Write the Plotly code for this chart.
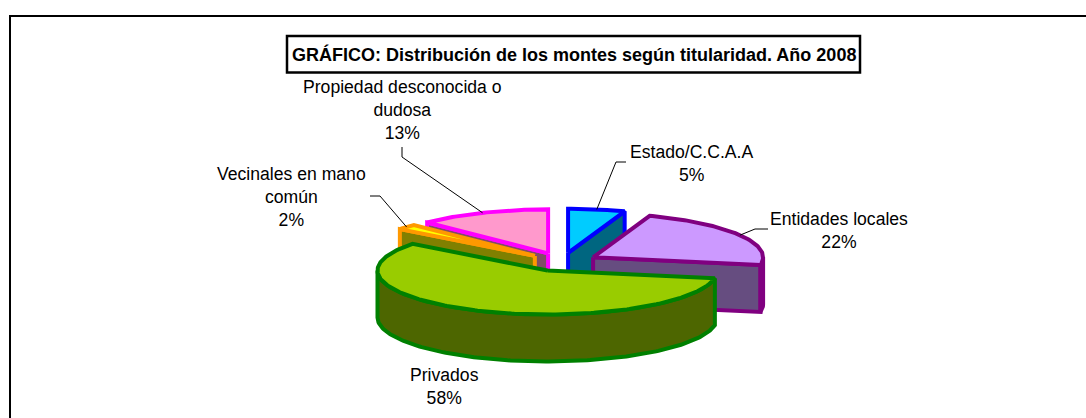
import math
import plotly.graph_objects as go

# ---- data ----
categories = ["Estado/C.C.A.A", "Entidades locales", "Privados",
              "Vecinales en mano común", "Propiedad desconocida o dudosa"]
shares = [5.4, 22.4, 57.6, 2.0, 12.6]
label_lines = [["Estado/C.C.A.A"], ["Entidades locales"], ["Privados"],
               ["Vecinales en mano", "común"], ["Propiedad desconocida o", "dudosa"]]
title_text = "GRÁFICO: Distribución de los montes según titularidad. Año 2008"

# ---- styles ----
top_colors = ["#00CCFF", "#CC99FF", "#99CC00", "#FFFF00", "#FF99CC"]
side_colors = ["#006680", "#664D80", "#4D6600", "#808000", "#804D66"]
edge_colors = ["#0000FF", "#800080", "#008000", "#FF9900", "#FF00FF"]

# ---- projection of the pie on the 1086x418 page ----
CX, CY, RX, RY, EXPLODE, DEPTH = 562, 262, 170, 44, 36, 47
EDGE_W = 4
LABEL_SIZE = 17.6
label_centers = [(691, 163), (839, 230), (444, 386), (291.5, 197), (402, 110)]


def pt(center, deg, radius=1.0, drop=0):
    a = math.radians(deg)
    return (center[0] + radius * RX * math.sin(a),
            center[1] - radius * RY * math.cos(a) + drop)


def arc(center, a0, a1, drop=0, step=1.0):
    n = max(2, int(abs(a1 - a0) / step) + 1)
    return [pt(center, a0 + (a1 - a0) * i / (n - 1), drop=drop) for i in range(n)]


def poly(fig, pts, fill, edge):
    xs = [p[0] for p in pts] + [pts[0][0]]
    ys = [p[1] for p in pts] + [pts[0][1]]
    fig.add_trace(go.Scatter(x=xs, y=ys, mode="lines", fill="toself", fillcolor=fill,
                             line=dict(color=edge, width=EDGE_W), hoverinfo="skip",
                             showlegend=False))


total = sum(shares)
slices = []
run = 0.0
for i, v in enumerate(shares):
    a0 = run / total * 360
    run += v
    a1 = run / total * 360
    mid = (a0 + a1) / 2
    m = math.radians(mid)
    c = (CX + EXPLODE * math.sin(m), CY - EXPLODE * RY / RX * math.cos(m))
    slices.append(dict(i=i, a0=a0, a1=a1, mid=mid, c=c))

fig = go.Figure()

# painter's order: far slices first, nearest last
for s in sorted(slices, key=lambda q: q["c"][1] + RY * -math.cos(math.radians(q["mid"])) * 0.3):
    i, a0, a1, c = s["i"], s["a0"], s["a1"], s["c"]
    fill, edge, top = side_colors[i], edge_colors[i], top_colors[i]
    low = (c[0], c[1] + DEPTH)
    if math.sin(math.radians(a0)) < -1e-6:
        p = pt(c, a0)
        poly(fig, [c, p, (p[0], p[1] + DEPTH), low], fill, edge)
    if math.sin(math.radians(a1)) > 1e-6:
        p = pt(c, a1)
        poly(fig, [c, p, (p[0], p[1] + DEPTH), low], fill, edge)
    w0, w1 = max(a0, 90), min(a1, 270)
    if w1 > w0:
        poly(fig, arc(c, w0, w1) + arc(c, w1, w0, drop=DEPTH), fill, edge)
    poly(fig, [c] + arc(c, a0, a1), top, edge)

shapes = [
    dict(type="rect", x0=10, y0=16, x1=1200, y1=600, line=dict(color="#000000", width=2)),
    dict(type="rect", x0=287, y0=36, x1=860, y1=72.5, line=dict(color="#000000", width=2.5),
         fillcolor="#FFFFFF"),
]

annotations = [dict(x=574, y=54, text="<b>" + title_text + "</b>", showarrow=False,
                    xanchor="center", yanchor="middle",
                    font=dict(family="Liberation Sans", size=18, color="#000000"))]

for s in slices:
    i = s["i"]
    lx, ly = label_centers[i]
    pct = f"{round(shares[i] / total * 100)}%"
    annotations.append(dict(x=lx, y=ly, text="<br>".join(label_lines[i] + [pct]), showarrow=False,
                            xanchor="center", yanchor="middle", align="center",
                            font=dict(family="Liberation Sans", size=LABEL_SIZE, color="#000000")))

fig.update_layout(
    width=1086, height=418, margin=dict(l=0, r=0, t=0, b=0),
    paper_bgcolor="#FFFFFF", plot_bgcolor="#FFFFFF", showlegend=False,
    xaxis=dict(range=[0, 1086], visible=False, fixedrange=True),
    yaxis=dict(range=[418, 0], visible=False, fixedrange=True),
    shapes=shapes, annotations=annotations,
)

# leader lines start on the rim of their slice
leader_ends = {0: [(626, 162), (616, 162)], 1: [(768, 229), (755, 229)],
               3: [(370, 196), (380, 196)], 4: [(402, 147), (402, 157)]}
for i, pts in leader_ends.items():
    rim = pt(slices[i]["c"], slices[i]["mid"])
    line_pts = pts + [rim]
    fig.add_trace(go.Scatter(x=[p[0] for p in line_pts], y=[p[1] for p in line_pts], mode="lines",
                             line=dict(color="#000000", width=1), hoverinfo="skip", showlegend=False))

fig.write_html("out.html", config=dict(displayModeBar=False),
               post_script="document.body.style.margin='0';document.documentElement.style.overflow='hidden';")
